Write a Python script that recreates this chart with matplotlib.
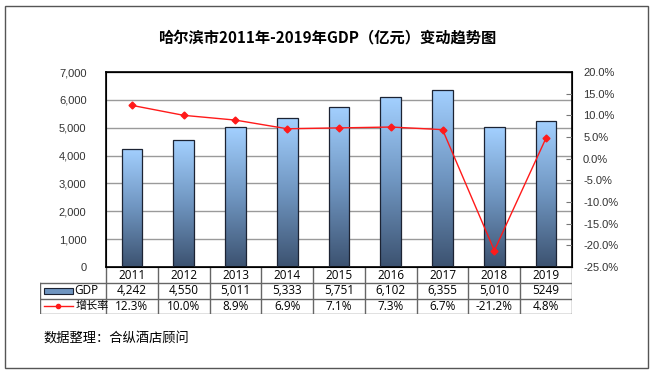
import numpy as np
import matplotlib
matplotlib.use("Agg")
import matplotlib.pyplot as plt
from matplotlib.patches import Rectangle
from matplotlib.colors import LinearSegmentedColormap
from matplotlib.ticker import FuncFormatter, MultipleLocator

plt.rcParams['font.family'] = ['Noto Sans CJK SC', 'DejaVu Sans']

years = ["2011", "2012", "2013", "2014", "2015", "2016", "2017", "2018", "2019"]
gdp = [4242, 4550, 5011, 5333, 5751, 6102, 6355, 5010, 5249]
gdp_labels = ["4,242", "4,550", "5,011", "5,333", "5,751", "6,102", "6,355", "5,010", "5249"]
growth = [12.3, 10.0, 8.9, 6.9, 7.1, 7.3, 6.7, -21.2, 4.8]
growth_labels = ["12.3%", "10.0%", "8.9%", "6.9%", "7.1%", "7.3%", "6.7%", "-21.2%", "4.8%"]

W, H = 654, 375
fig = plt.figure(figsize=(W / 100, H / 100), dpi=100)

# outer frame
fig.add_artist(Rectangle((5 / W, 7 / H), 643 / W, 362 / H, transform=fig.transFigure,
                         fill=False, edgecolor="#555555", linewidth=1))

fig.text(327 / W, 1 - 37 / H, "哈尔滨市2011年-2019年GDP（亿元）变动趋势图",
         ha="center", va="center", fontsize=11, fontweight="bold")

left, right, top, bottom = 106, 572, 72, 267
ax = fig.add_axes([left / W, 1 - bottom / H, (right - left) / W, (bottom - top) / H])
x = np.arange(len(years))

grad = LinearSegmentedColormap.from_list("g", ["#3c5270", "#6f95c0", "#a3d0ff"])
bars = ax.bar(x, gdp, width=0.4, facecolor="none", edgecolor="#1c2333", linewidth=0.9, zorder=3)
gimg = np.linspace(0, 1, 256).reshape(-1, 1)
for b in bars:
    bx, by = b.get_x(), b.get_y()
    im = ax.imshow(gimg, cmap=grad, origin="lower", aspect="auto", zorder=2,
                   extent=[bx, bx + b.get_width(), by, by + b.get_height()])
    im.set_clip_path(b)

ax.set_xlim(-0.5, len(years) - 0.5)
ax.set_ylim(0, 7000)
ax.yaxis.set_major_locator(MultipleLocator(1000))
ax.yaxis.set_major_formatter(FuncFormatter(lambda v, p: f"{int(v):,}"))
ax.grid(axis="y", color="#9a9a9a", linewidth=1, zorder=0)
ax.set_xticks([])
ax.tick_params(axis="y", length=0, labelsize=8, pad=14, labelcolor="#333333")
for lab in ax.get_yticklabels():
    lab.set_fontfamily("Liberation Sans")
for s in ax.spines.values():
    s.set_linewidth(1.2)

ax2 = ax.twinx()
ax2.plot(x, growth, color="#ff1a1a", linewidth=1, marker="D", markersize=3.5, zorder=5)
ax2.set_ylim(-25, 20)
ax2.yaxis.set_major_locator(MultipleLocator(5))
ax2.yaxis.set_major_formatter(FuncFormatter(lambda v, p: f"{v:.1f}%"))
ax2.tick_params(axis="y", direction="in", length=4, labelsize=8, pad=8,
                labelcolor="#333333", color="#777777")
for lab in ax2.get_yticklabels():
    lab.set_fontfamily("Liberation Sans")
ax2.set_zorder(ax.get_zorder() + 1)
ax2.patch.set_visible(False)

# data table below the plot
tleft, tbottom, row_h = 40, 314, 15.5
col_w = (right - left) / len(years)
lead = (left - tleft) / col_w
tab = fig.add_axes([tleft / W, 1 - tbottom / H, (right - tleft) / W, 3 * row_h / H])
tab.set_xlim(-0.5 - lead, len(years) - 0.5)
tab.set_ylim(0, 3)
tab.axis("off")
lc = "#666666"
for yy in [0, 1, 2]:
    tab.plot([-0.5 - lead, len(years) - 0.5], [yy, yy], color=lc, lw=1)
tab.plot([-0.5 - lead] * 2, [0, 2], color=lc, lw=1)
for i in range(len(years) + 1):
    tab.plot([i - 0.5] * 2, [0, 3], color=lc, lw=1)
tf = ["Open Sans", "DejaVu Sans"]
fs = 8.5
for i in range(len(years)):
    tab.text(i, 2.5, years[i], ha="center", va="center", fontsize=fs, family=tf)
    tab.text(i, 1.5, gdp_labels[i], ha="center", va="center", fontsize=fs, family=tf)
    tab.text(i, 0.5, growth_labels[i], ha="center", va="center", fontsize=fs, family=tf)

lx0 = -0.5 - lead + 0.08
tab.add_patch(Rectangle((lx0, 1.32), 0.55, 0.36, facecolor="#6f95c0", edgecolor="#1c2333", lw=0.8))
tab.text(lx0 + 0.58, 1.5, "GDP", ha="left", va="center", fontsize=fs, family=tf)
tab.plot([lx0, lx0 + 0.55], [0.5, 0.5], color="#ff1a1a", lw=1)
tab.plot([lx0 + 0.275], [0.5], color="#ff1a1a", marker="o", markersize=3)
tab.text(lx0 + 0.6, 0.5, "增长率", ha="left", va="center", fontsize=8)

fig.text(43 / W, 1 - 338 / H, "数据整理：合纵酒店顾问", ha="left", va="center", fontsize=9.5)

fig.savefig("out.png", dpi=100)
